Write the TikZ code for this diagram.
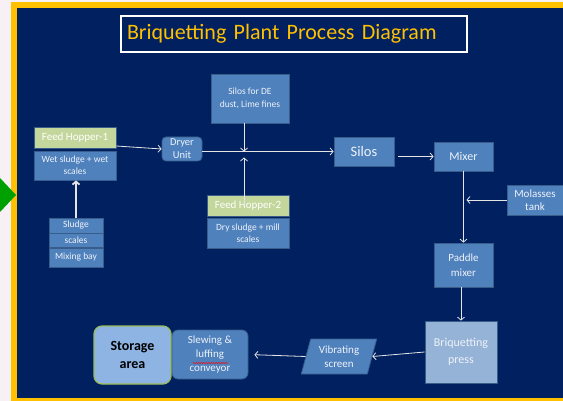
\documentclass[tikz,border=0pt]{standalone}
\usepackage{fontspec}
\setmainfont{Carlito}
\usepackage{tikz}
\usetikzlibrary{arrows.meta,calc,positioning,shapes.geometric,decorations.pathmorphing}
\definecolor{colorpage}{HTML}{F7F0F5}
\definecolor{colorframe}{HTML}{FFC000}
\definecolor{colorgo}{HTML}{00A000}
\definecolor{colorbg}{HTML}{002060}
\definecolor{colorbox}{HTML}{4F81BD}
\definecolor{colorline}{HTML}{385D8A}
\definecolor{colorhop}{HTML}{C3D69B}
\definecolor{colorpress}{HTML}{95B3D7}
\definecolor{colorstore}{HTML}{8DB4E2}
\definecolor{colorrim}{HTML}{9BBB59}
\definecolor{colortext}{HTML}{EEF2F8}
\newcommand\fsz[2]{\fontsize{#1}{#2}\selectfont}
\tikzset{
  unit/.style={draw=colorline, line width=0.8pt, fill=colorbox, text=colortext, align=center, inner sep=1pt},
  hopper/.style={unit, fill=colorhop, text=white},
  roundunit/.style={unit, rounded corners=5pt},
  titlebox/.style={draw=white, line width=1.2pt, text=colorframe, inner xsep=6pt, text width=334pt, minimum height=36pt, align=left},
  flow/.style={draw=white!90!black, line width=0.8pt, -{Straight Barb[length=3pt,width=7pt]}},
  bigflow/.style={flow, line width=1.8pt},
  spell/.style={red, line width=0.5pt, decorate, decoration={snake, amplitude=0.6pt, segment length=2.5pt}}
}

\begin{document}
\begin{tikzpicture}[x=1pt, y=-1pt]
\useasboundingbox (0,0) rectangle (563,401);
% frame
\fill[colorpage] (0,0) rectangle (563,401);
\fill[colorframe] (11,2) rectangle (563,401);
\fill[colorbg] (17,8) rectangle (563,398);
\fill[colorgo] (0,178) -- (16,195) -- (0,212) -- cycle;

\node[titlebox, font=\fsz{22}{26}] (title) at (294,34) {Briquetting Plant Process Diagram};

% feed side
\node[unit, minimum width=78pt, minimum height=49pt, font=\fsz{9.5}{13}] (silosDE) at (250,98.5) {Silos for DE\\dust, Lime fines};
\node[hopper, minimum width=82pt, minimum height=21pt, font=\fsz{11}{13}] (hopA) at (75,137.5) {Feed Hopper-1};
\node[unit, minimum width=82pt, minimum height=29pt, font=\fsz{9.5}{12}] (wetA) at (75,165.5) {Wet sludge + wet\\scales};
\node[roundunit, rounded corners=4pt, minimum width=40pt, minimum height=24pt, font=\fsz{10.5}{13}] (dryer) at (182,149) {Dryer\\Unit};
\node[unit, minimum width=54pt, minimum height=15pt, font=\fsz{9.5}{12}] (sludge) at (76,225.5) {Sludge};
\node[unit, minimum width=54pt, minimum height=14pt, font=\fsz{9.5}{12}] (scales) at (76,240.5) {scales};
\node[unit, minimum width=54pt, minimum height=19pt, font=\fsz{9.5}{12}] (mixbay) at (76,257.5) {Mixing bay};
\node[hopper, minimum width=82pt, minimum height=21pt, font=\fsz{11}{13}] (hopB) at (248,205.5) {Feed Hopper-2};
\node[unit, minimum width=82pt, minimum height=30pt, font=\fsz{9.5}{12}] (dryB) at (248,233) {Dry sludge + mill\\scales};

% main line
\node[unit, minimum width=60pt, minimum height=29pt, font=\fsz{14.5}{17}] (silos) at (364,151.5) {Silos};
\node[unit, minimum width=59pt, minimum height=29pt, font=\fsz{12}{14}] (mixer) at (463.5,156.5) {Mixer};
\node[unit, minimum width=56pt, minimum height=30pt, font=\fsz{11}{13}] (molasses) at (535,200) {Molasses\\tank};
\node[unit, minimum width=59pt, minimum height=44pt, font=\fsz{11}{15}] (paddle) at (463.5,265) {Paddle\\mixer};
\node[unit, fill=colorpress, minimum width=72pt, minimum height=62pt, font=\fsz{12}{17}] (press) at (461,352) {Briquetting\\press};
\node[unit, shape=trapezium, trapezium left angle=75, trapezium right angle=105, inner xsep=-1pt, minimum height=35pt, font=\fsz{11}{14}] (screen) at (339,356.5) {Vibrating\\screen};
\node[roundunit, rounded corners=6pt, minimum width=76pt, minimum height=49pt, font=\fsz{11}{14}] (conveyor) at (210,354.5) {Slewing \&\\luffing\\conveyor};
\node[unit, draw=colorrim, line width=1.2pt, fill=colorstore, text=black, rounded corners=8pt, minimum width=77pt, minimum height=58pt, font=\bfseries\fsz{14}{18}] (storage) at (132.5,355) {Storage\\area};
\draw[spell] ($(conveyor.center)+(-17,8.5)$) -- ++(35,0);

% flows
\coordinate (jn) at (244,151.5);
\draw[flow] ($(hopA.east)+(0,8.5)$) -- (dryer.west);
\draw[flow] (dryer.east |- silos.west) -- (silos.west);
\draw[flow] (silosDE.south -| jn) -- (jn);
\draw[flow] (hopB.center -| jn) -- ($(jn)+(0,6)$);
\draw[bigflow] (sludge.north) -- (sludge.north |- wetA.south);
\draw[flow, shorten <=4pt] (silos.east |- mixer.west) -- (mixer.west);
\draw[flow] (mixer) -- (paddle);
\draw[flow, shorten >=3pt] (molasses.west) -- (molasses.west -| mixer.south);
\draw[flow] (paddle.south -| press.north) -- (press.north);
\draw[flow] (press.west) -- (screen.east);
\draw[flow, shorten >=6pt] (screen.west) -- (conveyor.east);
\end{tikzpicture}
\end{document}
